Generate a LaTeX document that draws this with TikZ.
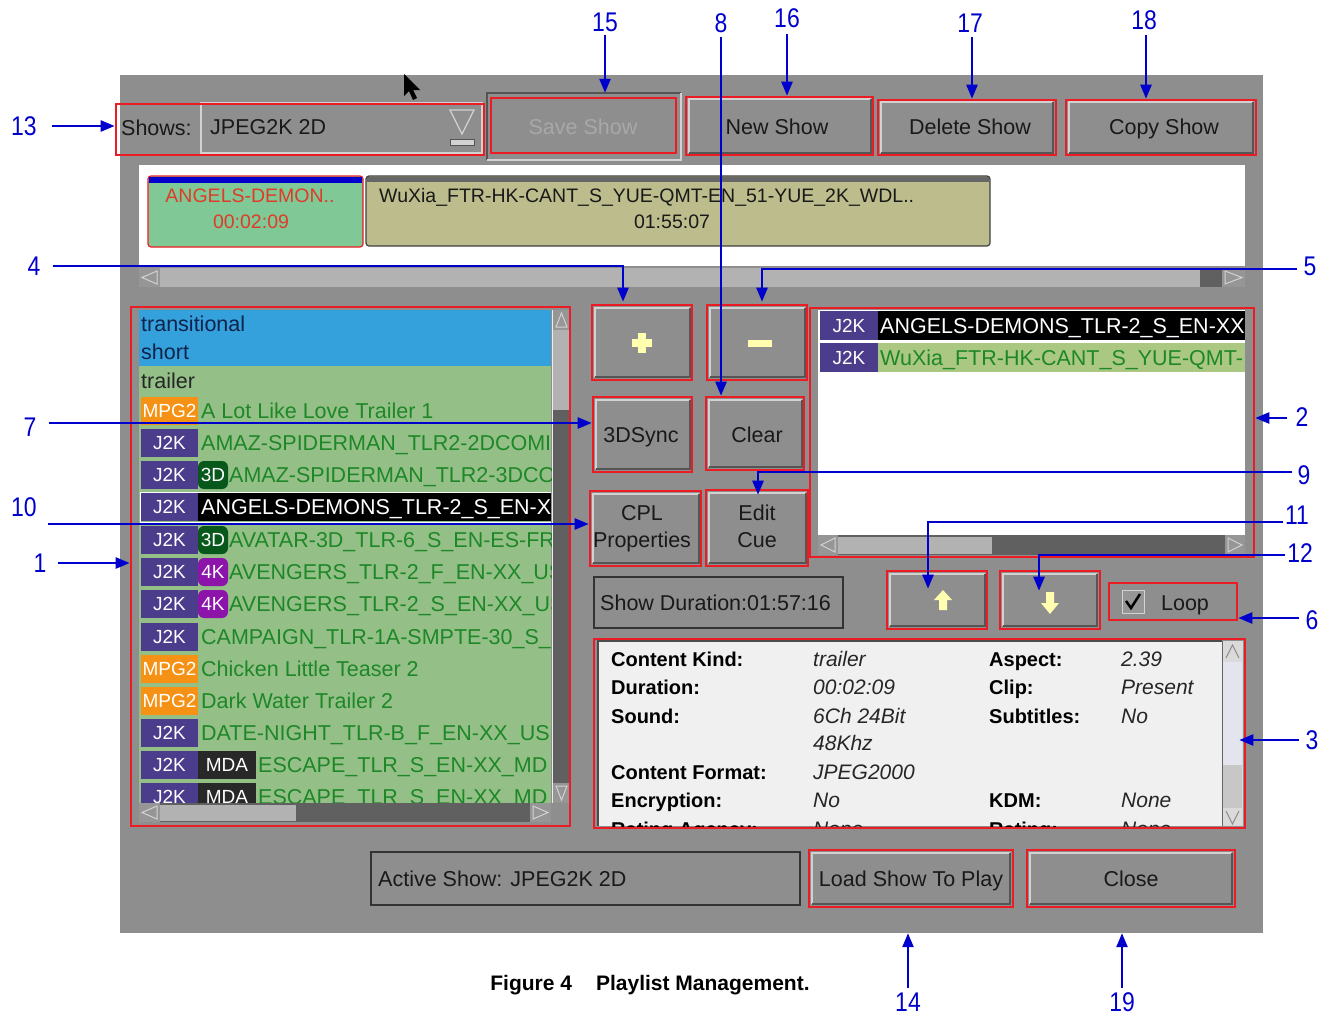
\documentclass[tikz,border=0pt]{standalone}
\usepackage{fontspec}
\setmainfont{Liberation Sans}
\usetikzlibrary{arrows.meta,fit,calc}
\definecolor{panelgray}{RGB}{142,142,142}
\definecolor{boxred}{RGB}{236,28,36}
\definecolor{callblue}{RGB}{0,0,204}
\definecolor{hilite}{RGB}{210,210,210}
\definecolor{shadowc}{RGB}{85,85,85}
\definecolor{uitext}{RGB}{25,25,25}
\definecolor{listgreen}{RGB}{148,192,136}
\definecolor{selblue}{RGB}{52,160,220}
\definecolor{itemgreen}{RGB}{30,135,40}
\definecolor{j2kpurple}{RGB}{76,60,140}
\definecolor{mpgorange}{RGB}{245,146,22}
\definecolor{threedgreen}{RGB}{8,88,28}
\definecolor{fourkmag}{RGB}{140,20,170}
\definecolor{mdadark}{RGB}{40,40,40}
\definecolor{angelgreen}{RGB}{128,200,150}
\definecolor{angelred}{RGB}{222,60,40}
\definecolor{wuxiaolive}{RGB}{188,188,140}
\definecolor{rowolive}{RGB}{170,200,130}
\definecolor{infobg}{RGB}{240,240,240}
\definecolor{sbdark}{RGB}{96,96,96}
\definecolor{sbthumb}{RGB}{178,178,178}
\definecolor{sbarrow}{RGB}{150,150,150}
\definecolor{iconyellow}{RGB}{255,255,175}
\definecolor{navytext}{RGB}{15,35,75}
\definecolor{greytext}{RGB}{168,168,168}
\definecolor{lavthumb}{RGB}{228,228,238}
\newcommand\bvl[4]{\fill[panelgray] (#1,#2) rectangle (#3,#4);
  \draw[hilite,line width=1.5pt] (#1,#4) -- (#1,#2) -- (#3,#2);
  \draw[shadowc,line width=1.5pt] (#3,#2) -- (#3,#4) -- (#1,#4);}
\newcommand\bdg[6]{\fill[#4] (#1,{#3-14}) rectangle (#2,{#3+14});
  \node[badge] (#6) at ({(#1+#2)/2},#3) {#5};}
\begin{document}
\begin{tikzpicture}[x=1pt,y=-1pt,
  redbox/.style={draw=boxred,line width=2.6pt,inner sep=0pt,fit={#1}},
  callout/.style={draw=callblue,line width=2.4pt,-{Triangle[length=14pt,width=11pt]}},
  num/.style={text=callblue,font=\fontsize{27}{27}\selectfont,xscale=0.85,inner sep=0pt,text height=19.3pt,text depth=0pt},
  ui/.style={text=uitext,font=\fontsize{21.5}{26}\selectfont,inner sep=0pt,text height=15.4pt,text depth=0pt},
  item/.style={text=itemgreen,font=\fontsize{21.5}{26}\selectfont,inner sep=0pt,anchor=west,text height=15.4pt,text depth=0pt},
  badge/.style={text=white,font=\fontsize{19}{22}\selectfont,inner sep=0pt,text height=13.6pt,text depth=0pt},
  ilab/.style={text=black,font=\bfseries\fontsize{20}{24}\selectfont,inner sep=0pt,anchor=west,text height=14.3pt,text depth=0pt},
  ival/.style={text=black!85,font=\itshape\fontsize{21}{24}\selectfont,inner sep=0pt,anchor=west,text height=15pt,text depth=0pt},
  tl/.style={font=\fontsize{19.5}{24}\selectfont,inner sep=0pt,text height=14pt,text depth=0pt},
  sbline/.style={draw=hilite,line width=1pt}]
\useasboundingbox (0,0) rectangle (1335,1015);
\fill[white] (0,0) rectangle (1335,1015);
\node[fill=panelgray,inner sep=0pt,fit={(120,75)(1263,933)}] (panel) {};

% ---------- top row ----------
\draw[hilite,line width=1.5pt] (201,103) rectangle (482,153);
\node[ui,anchor=west] (tshows) at (121,128) {Shows:};
\node[ui,anchor=west] (tcombo) at (210,127) {JPEG2K 2D};
\draw[hilite,line width=1.3pt] (450,110) -- (474,110) -- (462,134) -- cycle;
\filldraw[fill=hilite,draw=shadowc,line width=0.8pt] (450,139) rectangle (474,145);
\node[redbox={(116,104)(484,155)}] (r13) {};

\node[inner sep=0pt,fit={(487,93)(681,160)}] (fsave) {};
\draw[shadowc,line width=1.5pt] (fsave.south west) -- (fsave.north west) -- (fsave.north east);
\draw[hilite,line width=1.5pt] (fsave.north east) -- (fsave.south east) -- (fsave.south west);
\node[ui,text=greytext] (tsave) at (583,127) {Save Show};
\node[redbox={(491,98)(676,153)}] (rsave) {};

\bvl{689}{99}{871}{153}
\node[ui] (tnew) at (777,127) {New Show};
\node[redbox={(686,97)(873,155)}] (rnew) {};
\bvl{881}{102}{1053}{153}
\node[ui] (tdel) at (970,127) {Delete Show};
\node[redbox={(878,100)(1056,155)}] (rdel) {};
\bvl{1069}{102}{1253}{153}
\node[ui] (tcopy) at (1164,127) {Copy Show};
\node[redbox={(1066,100)(1256,155)}] (rcopy) {};

% cursor
\fill[black] (404,74) -- (404,96) -- (409,91) -- (413,100) -- (417,98) -- (413,90) -- (420,90) -- cycle;

% ---------- timeline ----------
\fill[white] (139,165) rectangle (1245,266);
\node[fill=angelgreen,draw=boxred,line width=1.2pt,rounded corners=3pt,inner sep=0pt,fit={(148,176)(363,247)}] (bangel) {};
\fill[blue!80!black] (149,176.6) rectangle (362,183);
\node[tl,text=angelred] (tang1) at (250,195) {ANGELS-DEMON..};
\node[tl,text=angelred] (tang2) at (251,221) {00:02:09};
\node[fill=wuxiaolive,draw=black!75,line width=1.2pt,rounded corners=3pt,inner sep=0pt,fit={(366,176)(990,246)}] (bwux) {};
\fill[black!60] (367,176.6) rectangle (989,182);
\node[tl,anchor=west,text=uitext] (twux1) at (379,195) {WuXia\_FTR-HK-CANT\_S\_YUE-QMT-EN\_51-YUE\_2K\_WDL..};
\node[tl,text=uitext] (twux2) at (672,221) {01:55:07};
\fill[sbthumb] (160,268) rectangle (1200,287);
\fill[sbdark] (1200,268) rectangle (1222,287);
\fill[sbarrow] (139,268) rectangle (160,287);
\draw[sbline] (157,271) -- (142,277.5) -- (157,284) -- cycle;
\fill[sbarrow] (1222,268) rectangle (1245,287);
\draw[sbline] (1225,271) -- (1242,277.5) -- (1225,284) -- cycle;

% ---------- left list ----------
\fill[listgreen] (139,310) rectangle (551,803);
\fill[selblue] (139,310) rectangle (551,366);
\begin{scope}
\clip (139,310) rectangle (551,803);
\node[item,text=navytext] (ltrans) at (141,324) {transitional};
\node[item,text=navytext] (lshort) at (141,352) {short};
\node[item,text=black!85] (ltrail) at (141,381) {trailer};
\bdg{141}{198}{411}{mpgorange}{MPG2}{lb0}
\node[item] (li0) at (201,411) {A Lot Like Love Trailer 1};
\bdg{141}{198}{443}{j2kpurple}{J2K}{lb1}
\node[item] (li1) at (201,443) {AMAZ-SPIDERMAN\_TLR2-2DCOMI};
\bdg{141}{198}{475}{j2kpurple}{J2K}{lb2}
\bdg{198}{228}{475}{threedgreen,rounded corners=6pt}{3D}{lc2}
\node[item] (li2) at (229,475) {AMAZ-SPIDERMAN\_TLR2-3DCOM};
\fill[black] (198,493) rectangle (551,521);
\bdg{141}{198}{507}{j2kpurple}{J2K}{lb3}
\draw[white,line width=1.5pt] (140.5,492.5) rectangle (553,522.5);
\node[item,text=white] (li3) at (201,507) {ANGELS-DEMONS\_TLR-2\_S\_EN-XX};
\bdg{141}{198}{540}{j2kpurple}{J2K}{lb4}
\bdg{198}{228}{540}{threedgreen,rounded corners=6pt}{3D}{lc4}
\node[item] (li4) at (229,540) {AVATAR-3D\_TLR-6\_S\_EN-ES-FR};
\bdg{141}{198}{572}{j2kpurple}{J2K}{lb5}
\bdg{198}{228}{572}{fourkmag,rounded corners=6pt}{4K}{lc5}
\node[item] (li5) at (229,572) {AVENGERS\_TLR-2\_F\_EN-XX\_US};
\bdg{141}{198}{604}{j2kpurple}{J2K}{lb6}
\bdg{198}{228}{604}{fourkmag,rounded corners=6pt}{4K}{lc6}
\node[item] (li6) at (229,604) {AVENGERS\_TLR-2\_S\_EN-XX\_US};
\bdg{141}{198}{637}{j2kpurple}{J2K}{lb7}
\node[item] (li7) at (201,637) {CAMPAIGN\_TLR-1A-SMPTE-30\_S\_};
\bdg{141}{198}{669}{mpgorange}{MPG2}{lb8}
\node[item] (li8) at (201,669) {Chicken Little Teaser 2};
\bdg{141}{198}{701}{mpgorange}{MPG2}{lb9}
\node[item] (li9) at (201,701) {Dark Water Trailer 2};
\bdg{141}{198}{733}{j2kpurple}{J2K}{lb10}
\node[item] (li10) at (201,733) {DATE-NIGHT\_TLR-B\_F\_EN-XX\_US};
\bdg{141}{198}{765}{j2kpurple}{J2K}{lb11}
\bdg{198}{256}{765}{mdadark}{MDA}{lc11}
\node[item] (li11) at (258,765) {ESCAPE\_TLR\_S\_EN-XX\_MD};
\bdg{141}{198}{797}{j2kpurple}{J2K}{lb12}
\bdg{198}{256}{797}{mdadark}{MDA}{lc12}
\node[item] (li12) at (258,797) {ESCAPE\_TLR\_S\_EN-XX\_MD};
\end{scope}
\fill[sbdark] (553,310) rectangle (570,803);
\fill[sbthumb] (553,330) rectangle (570,410);
\fill[sbarrow] (553,310) rectangle (570,330);
\draw[sbline] (556,327) -- (561.5,313) -- (567,327) -- cycle;
\fill[sbarrow] (553,783) rectangle (570,803);
\draw[sbline] (556,786) -- (567,786) -- (561.5,800) -- cycle;
\draw[white!85!gray,line width=1pt] (552,310) -- (552,803);
\fill[sbdark] (139,803) rectangle (551,822);
\fill[sbthumb] (160,805) rectangle (296,821);
\fill[sbarrow] (139,803) rectangle (160,822);
\draw[sbline] (157,806) -- (142,812.5) -- (157,819) -- cycle;
\fill[sbarrow] (530,803) rectangle (551,822);
\draw[sbline] (533,806) -- (548,812.5) -- (533,819) -- cycle;
\node[redbox={(131,307)(570,826)}] (r1) {};

% ---------- middle buttons ----------
\bvl{595}{308}{690}{377}
\fill[iconyellow] (632,339) rectangle (652,347);
\fill[iconyellow] (638,333) rectangle (646,353);
\node[redbox={(592,305)(692,380)}] (rplus) {};
\bvl{710}{308}{805}{377}
\fill[iconyellow] (748,340) rectangle (772,347);
\node[redbox={(707,305)(807,380)}] (rminus) {};
\bvl{596}{400}{690}{469}
\node[ui] (t3d) at (641,435) {3DSync};
\node[redbox={(593,397)(692,472)}] (r3d) {};
\bvl{709}{400}{802}{467}
\node[ui] (tclear) at (757,435) {Clear};
\node[redbox={(706,397)(804,470)}] (rclear) {};
\bvl{593}{494}{699}{563}
\node[ui] (tcpl1) at (642,513) {CPL};
\node[ui] (tcpl2) at (642,540) {Properties};
\node[redbox={(590,491)(701,566)}] (rcpl) {};
\bvl{709}{493}{806}{563}
\node[ui] (tedit1) at (757,513) {Edit};
\node[ui] (tedit2) at (757,540) {Cue};
\node[redbox={(706,490)(808,566)}] (redit) {};
\draw[black!80,line width=2pt] (594,577) rectangle (843,628);
\node[ui,anchor=west] (tdur) at (600,603) {Show Duration:01:57:16};
\bvl{890}{574}{985}{626}
\fill[iconyellow] (943,590) -- (952,600) -- (947,600) -- (947,610) -- (939,610) -- (939,600) -- (934,600) -- cycle;
\node[redbox={(887,571)(987,629)}] (rup) {};
\bvl{1003}{574}{1097}{626}
\fill[iconyellow] (1050,614) -- (1059,603) -- (1054,603) -- (1054,592) -- (1046,592) -- (1046,603) -- (1041,603) -- cycle;
\node[redbox={(1000,571)(1100,629)}] (rdown) {};
\filldraw[fill=sbarrow,draw=hilite,line width=1pt] (1122,590) rectangle (1144,613);
\draw[black,line width=2.5pt] (1126,601) -- (1131,608) -- (1140,594);
\node[ui] (tloop) at (1185,603) {Loop};
\node[redbox={(1109,583)(1237,620)}] (rloop) {};

% ---------- right list ----------
\fill[white] (818,310) rectangle (1245,535);
\begin{scope}
\clip (818,310) rectangle (1245,535);
\fill[black] (878,311) rectangle (1245,340);
\fill[j2kpurple] (820,311) rectangle (878,340);
\node[badge] (rb1) at (849,325.5) {J2K};
\node[item,text=white] (rl1) at (880,325.5) {ANGELS-DEMONS\_TLR-2\_S\_EN-XX};
\fill[rowolive] (878,343) rectangle (1245,372);
\fill[j2kpurple] (820,343) rectangle (878,372);
\node[badge] (rb2) at (849,357.5) {J2K};
\node[item] (rl2) at (880,357.5) {WuXia\_FTR-HK-CANT\_S\_YUE-QMT-};
\end{scope}
\fill[sbdark] (818,535) rectangle (1245,555);
\fill[sbthumb] (838,537) rectangle (992,554);
\fill[sbarrow] (818,535) rectangle (838,555);
\draw[sbline] (835,538) -- (821,545) -- (835,552) -- cycle;
\fill[sbarrow] (1225,535) rectangle (1245,555);
\draw[sbline] (1228,538) -- (1242,545) -- (1228,552) -- cycle;
\node[redbox={(810,308)(1254,557)}] (r2) {};

% ---------- info panel ----------
\fill[infobg] (598,641) rectangle (1222,826);
\draw[black!70,line width=1.5pt] (598,826) -- (598,641) -- (1222,641);
\begin{scope}
\clip (598,641) rectangle (1222,826);
\node[ilab] (ia1) at (611,659) {Content Kind:};
\node[ival] (iv1) at (813,659) {trailer};
\node[ilab] (ib1) at (989,659) {Aspect:};
\node[ival] (iw1) at (1121,659) {2.39};
\node[ilab] (ia2) at (611,687) {Duration:};
\node[ival] (iv2) at (813,687) {00:02:09};
\node[ilab] (ib2) at (989,687) {Clip:};
\node[ival] (iw2) at (1121,687) {Present};
\node[ilab] (ia3) at (611,716) {Sound:};
\node[ival] (iv3) at (813,716) {6Ch 24Bit};
\node[ilab] (ib3) at (989,716) {Subtitles:};
\node[ival] (iw3) at (1121,716) {No};
\node[ival] (iv4) at (813,743) {48Khz};
\node[ilab] (ia5) at (611,772) {Content Format:};
\node[ival] (iv5) at (813,772) {JPEG2000};
\node[ilab] (ia6) at (611,800) {Encryption:};
\node[ival] (iv6) at (813,800) {No};
\node[ilab] (ib6) at (989,800) {KDM:};
\node[ival] (iw6) at (1121,800) {None};
\node[ilab] (ia7) at (611,829) {Rating Agency:};
\node[ival] (iv7) at (813,829) {None};
\node[ilab] (ib7) at (989,829) {Rating:};
\node[ival] (iw7) at (1121,829) {None};
\end{scope}
\fill[infobg!80!gray] (1222,641) rectangle (1243,826);
\fill[lavthumb] (1223,662) rectangle (1242,765);
\fill[black!22] (1223,765) rectangle (1242,808);
\draw[black!45,line width=1pt] (1226,658) -- (1232.5,645) -- (1239,658);
\draw[black!45,line width=1pt] (1226,811) -- (1232.5,824) -- (1239,811);
\draw[black!60,line width=1pt] (1222,641) -- (1222,826);
\node[redbox={(594,639)(1245,828)}] (rinfo) {};

% ---------- bottom row ----------
\draw[black!80,line width=2pt] (371,852) rectangle (800,905);
\node[ui,anchor=west] (tactive) at (378,879) {Active Show: JPEG2K 2D};
\bvl{812}{853}{1010}{904}
\node[ui] (tload) at (911,879) {Load Show To Play};
\node[redbox={(809,850)(1013,907)}] (rload) {};
\bvl{1030}{853}{1232}{904}
\node[ui] (tclose) at (1131,879) {Close};
\node[redbox={(1027,850)(1235,907)}] (rclose) {};

% ---------- caption ----------
\node[font=\bfseries\fontsize{21}{24}\selectfont,inner sep=0pt,text height=15pt,text depth=0pt] (cap) at (650,983) {Figure 4\hspace{24pt}Playlist Management.};

% ---------- callouts ----------
\node[num] (n13) at (24,126) {13};
\node[num] (n15) at (605,22) {15};
\node[num] (n8) at (721,23) {8};
\node[num] (n16) at (787,18) {16};
\node[num] (n17) at (970,23) {17};
\node[num] (n18) at (1144,20) {18};
\node[num] (n4) at (34,266) {4};
\node[num] (n5) at (1310,266) {5};
\node[num] (n7) at (30,427) {7};
\node[num] (n10) at (24,507) {10};
\node[num] (n1) at (40,563) {1};
\node[num] (n2) at (1302,417) {2};
\node[num] (n9) at (1304,475) {9};
\node[num] (n11) at (1297,515) {11};
\node[num] (n12) at (1300,553) {12};
\node[num] (n6) at (1312,620) {6};
\node[num] (n3) at (1312,740) {3};
\node[num] (n14) at (908,1002) {14};
\node[num] (n19) at (1122,1002) {19};

\coordinate (s13) at ([xshift=15pt]n13.east);
\draw[callout] (s13) -- (s13 -| r13.west);
\coordinate (s15) at ([yshift=-3pt]n15.south);
\draw[callout] (s15) -- (s15 |- fsave.north);
\coordinate (s8) at ([yshift=-4pt]n8.south);
\draw[callout] (s8) -- (s8 |- rclear.north);
\coordinate (s16) at ([yshift=-6pt]n16.south);
\draw[callout] (s16) -- (s16 |- rnew.north);
\coordinate (s17) at ([xshift=2pt,yshift=-4pt]n17.south);
\draw[callout] (s17) -- (s17 |- rdel.north);
\coordinate (s18) at ([xshift=2pt,yshift=-5pt]n18.south);
\draw[callout] (s18) -- (s18 |- rcopy.north);
\coordinate (s4) at ([xshift=12pt]n4.east);
\coordinate (t4) at ([xshift=-19pt,yshift=2pt]rplus.north);
\draw[callout] (s4) -| (t4);
\coordinate (s5) at ([xshift=-6pt,yshift=-3pt]n5.west);
\coordinate (t5) at ([xshift=5pt,yshift=2pt]rminus.north);
\draw[callout] (s5) -| (t5);
\coordinate (s7) at ([xshift=12pt,yshift=4pt]n7.east);
\draw[callout] (s7) -- (s7 -| r3d.west);
\coordinate (s10) at ([xshift=11pt,yshift=-17pt]n10.east);
\draw[callout] (s10) -- (s10 -| rcpl.west);
\coordinate (s1) at ([xshift=11pt]n1.east);
\draw[callout] (s1) -- (s1 -| r1.west);
\coordinate (s2) at ([xshift=-8pt,yshift=-1pt]n2.west);
\draw[callout] (s2) -- (s2 -| r2.east);
\coordinate (s9) at ([xshift=-5pt,yshift=3pt]n9.west);
\coordinate (t9) at ([xshift=1pt,yshift=-6pt]redit.north);
\draw[callout] (s9) -| (t9);
\coordinate (s11) at ([xshift=-2pt,yshift=-7pt]n11.west);
\coordinate (t11) at ([xshift=-9pt,yshift=-19pt]rup.north);
\draw[callout] (s11) -| (t11);
\coordinate (s12) at ([xshift=-2pt,yshift=-2pt]n12.west);
\coordinate (t12) at ([xshift=-11pt,yshift=-21pt]rdown.north);
\draw[callout] (s12) -| (t12);
\coordinate (s6) at ([xshift=-6pt,yshift=2pt]n6.west);
\draw[callout] (s6) -- (s6 -| rloop.east);
\coordinate (s3) at ([xshift=-6pt]n3.west);
\coordinate (t3) at ([xshift=-7pt]rinfo.east);
\draw[callout] (s3) -- (s3 -| t3);
\coordinate (s14) at ([yshift=4pt]n14.north);
\draw[callout] (s14) -- (s14 |- panel.south);
\coordinate (s19) at ([yshift=4pt]n19.north);
\draw[callout] (s19) -- (s19 |- panel.south);
\end{tikzpicture}
\end{document}
